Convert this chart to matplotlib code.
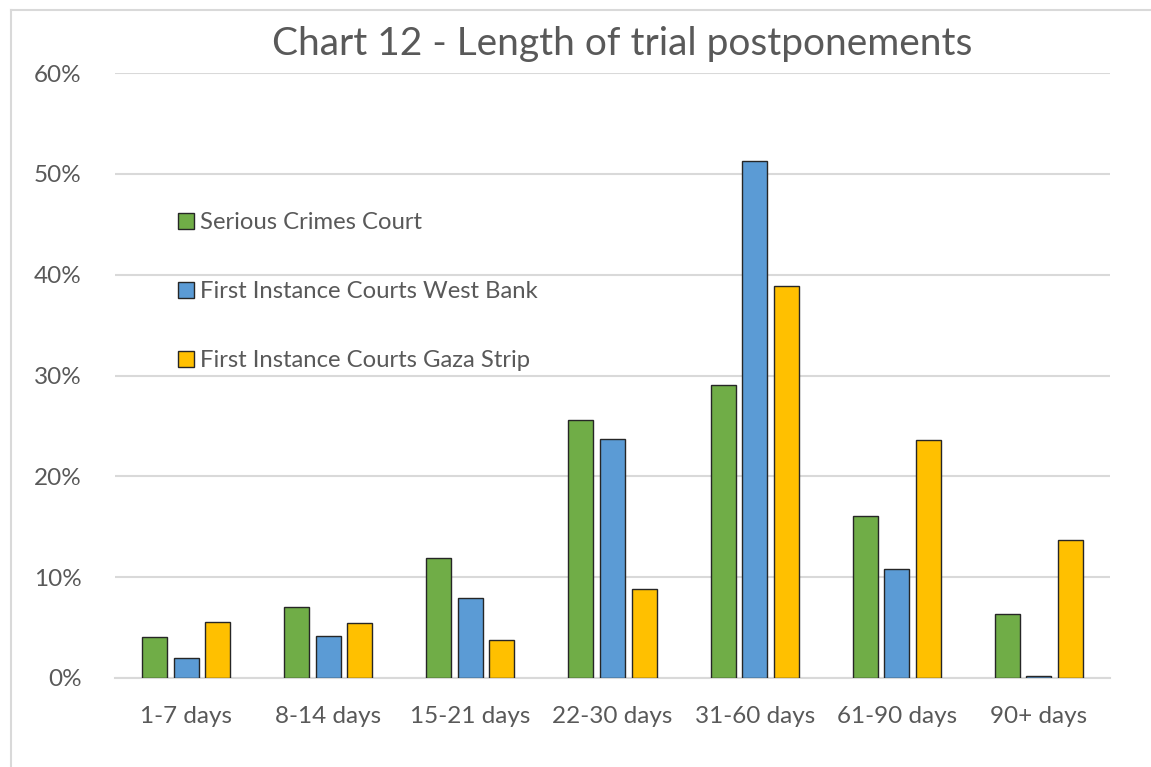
import matplotlib.pyplot as plt
import numpy as np
from matplotlib.lines import Line2D

plt.rcParams["font.family"] = ["Lato", "DejaVu Sans"]

# Data (percent).
categories = ["1-7 days", "8-14 days", "15-21 days", "22-30 days",
              "31-60 days", "61-90 days", "90+ days"]
serious_crimes = [4.1, 7.0, 11.9, 25.6, 29.1, 16.1, 6.3]
west_bank = [2.0, 4.2, 7.9, 23.7, 51.3, 10.8, 0.2]
gaza_strip = [5.6, 5.5, 3.8, 8.8, 38.9, 23.6, 13.7]

series_names = ["Serious Crimes Court", "First Instance Courts West Bank",
                "First Instance Courts Gaza Strip"]
colors = ["#70AD47", "#5B9BD5", "#FFC000"]
text_color = "#595959"
grid_color = "#D9D9D9"

W, H = 1151, 767
fig = plt.figure(figsize=(W / 100, H / 100), dpi=100)
ax = fig.add_axes([115 / W, 1 - 678 / H, 995 / W, 605 / H])

x = np.arange(len(categories))
width = 0.176
step = 0.222
for k, (vals, name, c) in enumerate(zip([serious_crimes, west_bank, gaza_strip],
                                        series_names, colors)):
    ax.bar(x + (k - 1) * step, vals, width, color=c, edgecolor="#262626",
           linewidth=1.0, label=name, zorder=3)

ax.set_xlim(-0.5, len(categories) - 0.5)
ax.set_ylim(0, 60)
ax.set_yticks(np.arange(0, 61, 10))
ax.set_yticklabels([f"{v}%" for v in range(0, 61, 10)])
ax.set_xticks(x)
ax.set_xticklabels(categories)
ax.tick_params(axis="both", length=0, labelsize=17.5, colors=text_color)
ax.tick_params(axis="y", pad=24)
ax.tick_params(axis="x", pad=20)
ax.grid(axis="y", color=grid_color, linewidth=1.5, zorder=0)
for s in ["top", "right", "left"]:
    ax.spines[s].set_visible(False)
ax.spines["bottom"].set_color(grid_color)
ax.spines["bottom"].set_linewidth(1.5)

handles = [plt.Rectangle((0, 0), 1, 1, facecolor=c, edgecolor="#262626", linewidth=1.0)
           for c in colors]
leg = ax.legend(handles, series_names, loc="upper left",
                bbox_to_anchor=(0.042, 0.805), frameon=False, fontsize=17.2,
                labelspacing=2.0, handlelength=0.65, handleheight=0.65,
                handletextpad=0.25, labelcolor=text_color)

fig.text(622 / W, 1 - 44 / H, "Chart 12 - Length of trial postponements",
         ha="center", va="center", fontsize=28, color=text_color)

# Outer chart frame (partly cut off in the reference).
fig.add_artist(Line2D([11 / W, 11 / W], [0, 1 - 10 / H], transform=fig.transFigure,
                      color=grid_color, linewidth=1.5))
fig.add_artist(Line2D([11 / W, 1], [1 - 10 / H, 1 - 10 / H], transform=fig.transFigure,
                      color=grid_color, linewidth=1.5))

fig.savefig("out.png", dpi=100)
